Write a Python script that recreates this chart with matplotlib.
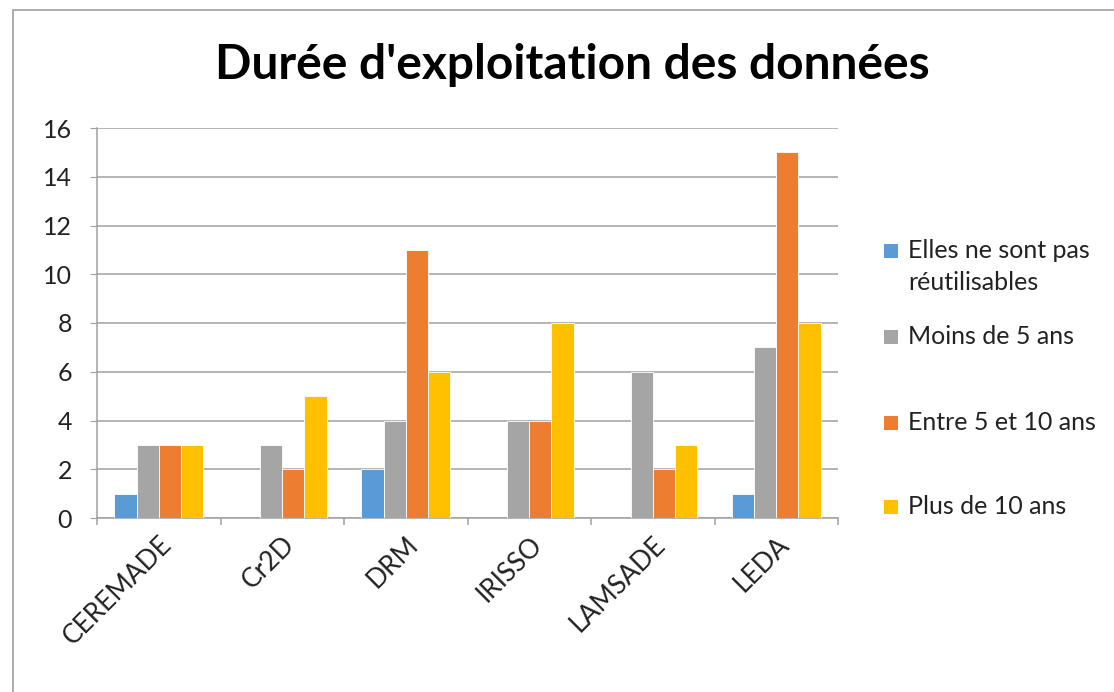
import matplotlib
matplotlib.use("Agg")
import matplotlib.pyplot as plt
import numpy as np
from matplotlib.patches import Rectangle

categories = ["CEREMADE", "Cr2D", "DRM", "IRISSO", "LAMSADE", "LEDA"]
series_names = ["Elles ne sont pas\nréutilisables", "Moins de 5 ans",
                "Entre 5 et 10 ans", "Plus de 10 ans"]
non_reutilisables = [1, 0, 2, 0, 0, 1]
moins_5 = [3, 3, 4, 4, 6, 7]
entre_5_10 = [3, 2, 11, 4, 2, 15]
plus_10 = [3, 5, 6, 8, 3, 8]
yticks = [0, 2, 4, 6, 8, 10, 12, 14, 16]
colors = ["#5B9BD5", "#A5A5A5", "#ED7D31", "#FFC000"]

plt.rcParams['font.family'] = ['Lato', 'DejaVu Sans']

W, H = 1114, 692
fig = plt.figure(figsize=(W / 100, H / 100), dpi=100)
ax = fig.add_axes([97 / W, 1 - 518 / H, (838 - 97) / W, (518 - 128) / H])

# outer chart border (top and left visible)
fig.patches.append(Rectangle((13 / W, -0.1), 1.2, 1 - 10 / H + 0.1,
                             transform=fig.transFigure, fill=False,
                             edgecolor="#A6A6A6", linewidth=1.3))

x = np.arange(len(categories))
bw = 0.18
data = [non_reutilisables, moins_5, entre_5_10, plus_10]
for i, (vals, c, name) in enumerate(zip(data, colors, series_names)):
    ax.bar(x + (i - 1.5) * bw, vals, width=bw, color=c, label=name,
           edgecolor="white", linewidth=0.6, zorder=3)

ax.set_xlim(-0.5, len(categories) - 0.5)
ax.set_ylim(0, 16)
ax.set_yticks(yticks)
ax.set_yticklabels([str(v) for v in yticks], fontsize=18, color="#222222")
ax.yaxis.grid(True, color="#A0A0A0", linewidth=1.1, zorder=0)
ax.set_axisbelow(True)
for s in ["top", "right"]:
    ax.spines[s].set_visible(False)
ax.spines["left"].set_color("#A0A0A0")
ax.spines["bottom"].set_color("#A0A0A0")
ax.spines["left"].set_linewidth(1.1)
ax.spines["bottom"].set_linewidth(1.1)
ax.tick_params(axis="y", length=5, color="#A0A0A0", pad=13, direction="out")
ax.tick_params(axis="x", length=0)
ax.set_xticks(x)
ax.set_xticklabels(categories, rotation=45, ha="right", rotation_mode="anchor",
                   fontsize=19, color="#222222")
ax.tick_params(axis="x", pad=10)
# category separator ticks
ax.set_xticks(np.arange(len(categories) + 1) - 0.5, minor=True)
ax.tick_params(axis="x", which="minor", length=5, color="#A0A0A0", width=1.1)

fig.text(572 / W, 1 - 65 / H, "Durée d'exploitation des données",
         ha="center", va="center", fontsize=34.5, fontweight="bold", color="black")

# legend (manual layout, Excel style)
legend_y = [251, 337, 423, 507]
for name, c, yy in zip(series_names, colors, legend_y):
    fig.patches.append(Rectangle((884 / W, 1 - (yy + 7) / H), 14 / W, 14 / H,
                                 transform=fig.transFigure, facecolor=c,
                                 edgecolor="none"))
    fig.text(908 / W, 1 - (yy - 12) / H, name, ha="left", va="top",
             fontsize=18, color="#222222", linespacing=1.45)

fig.savefig("out.png", dpi=100)
